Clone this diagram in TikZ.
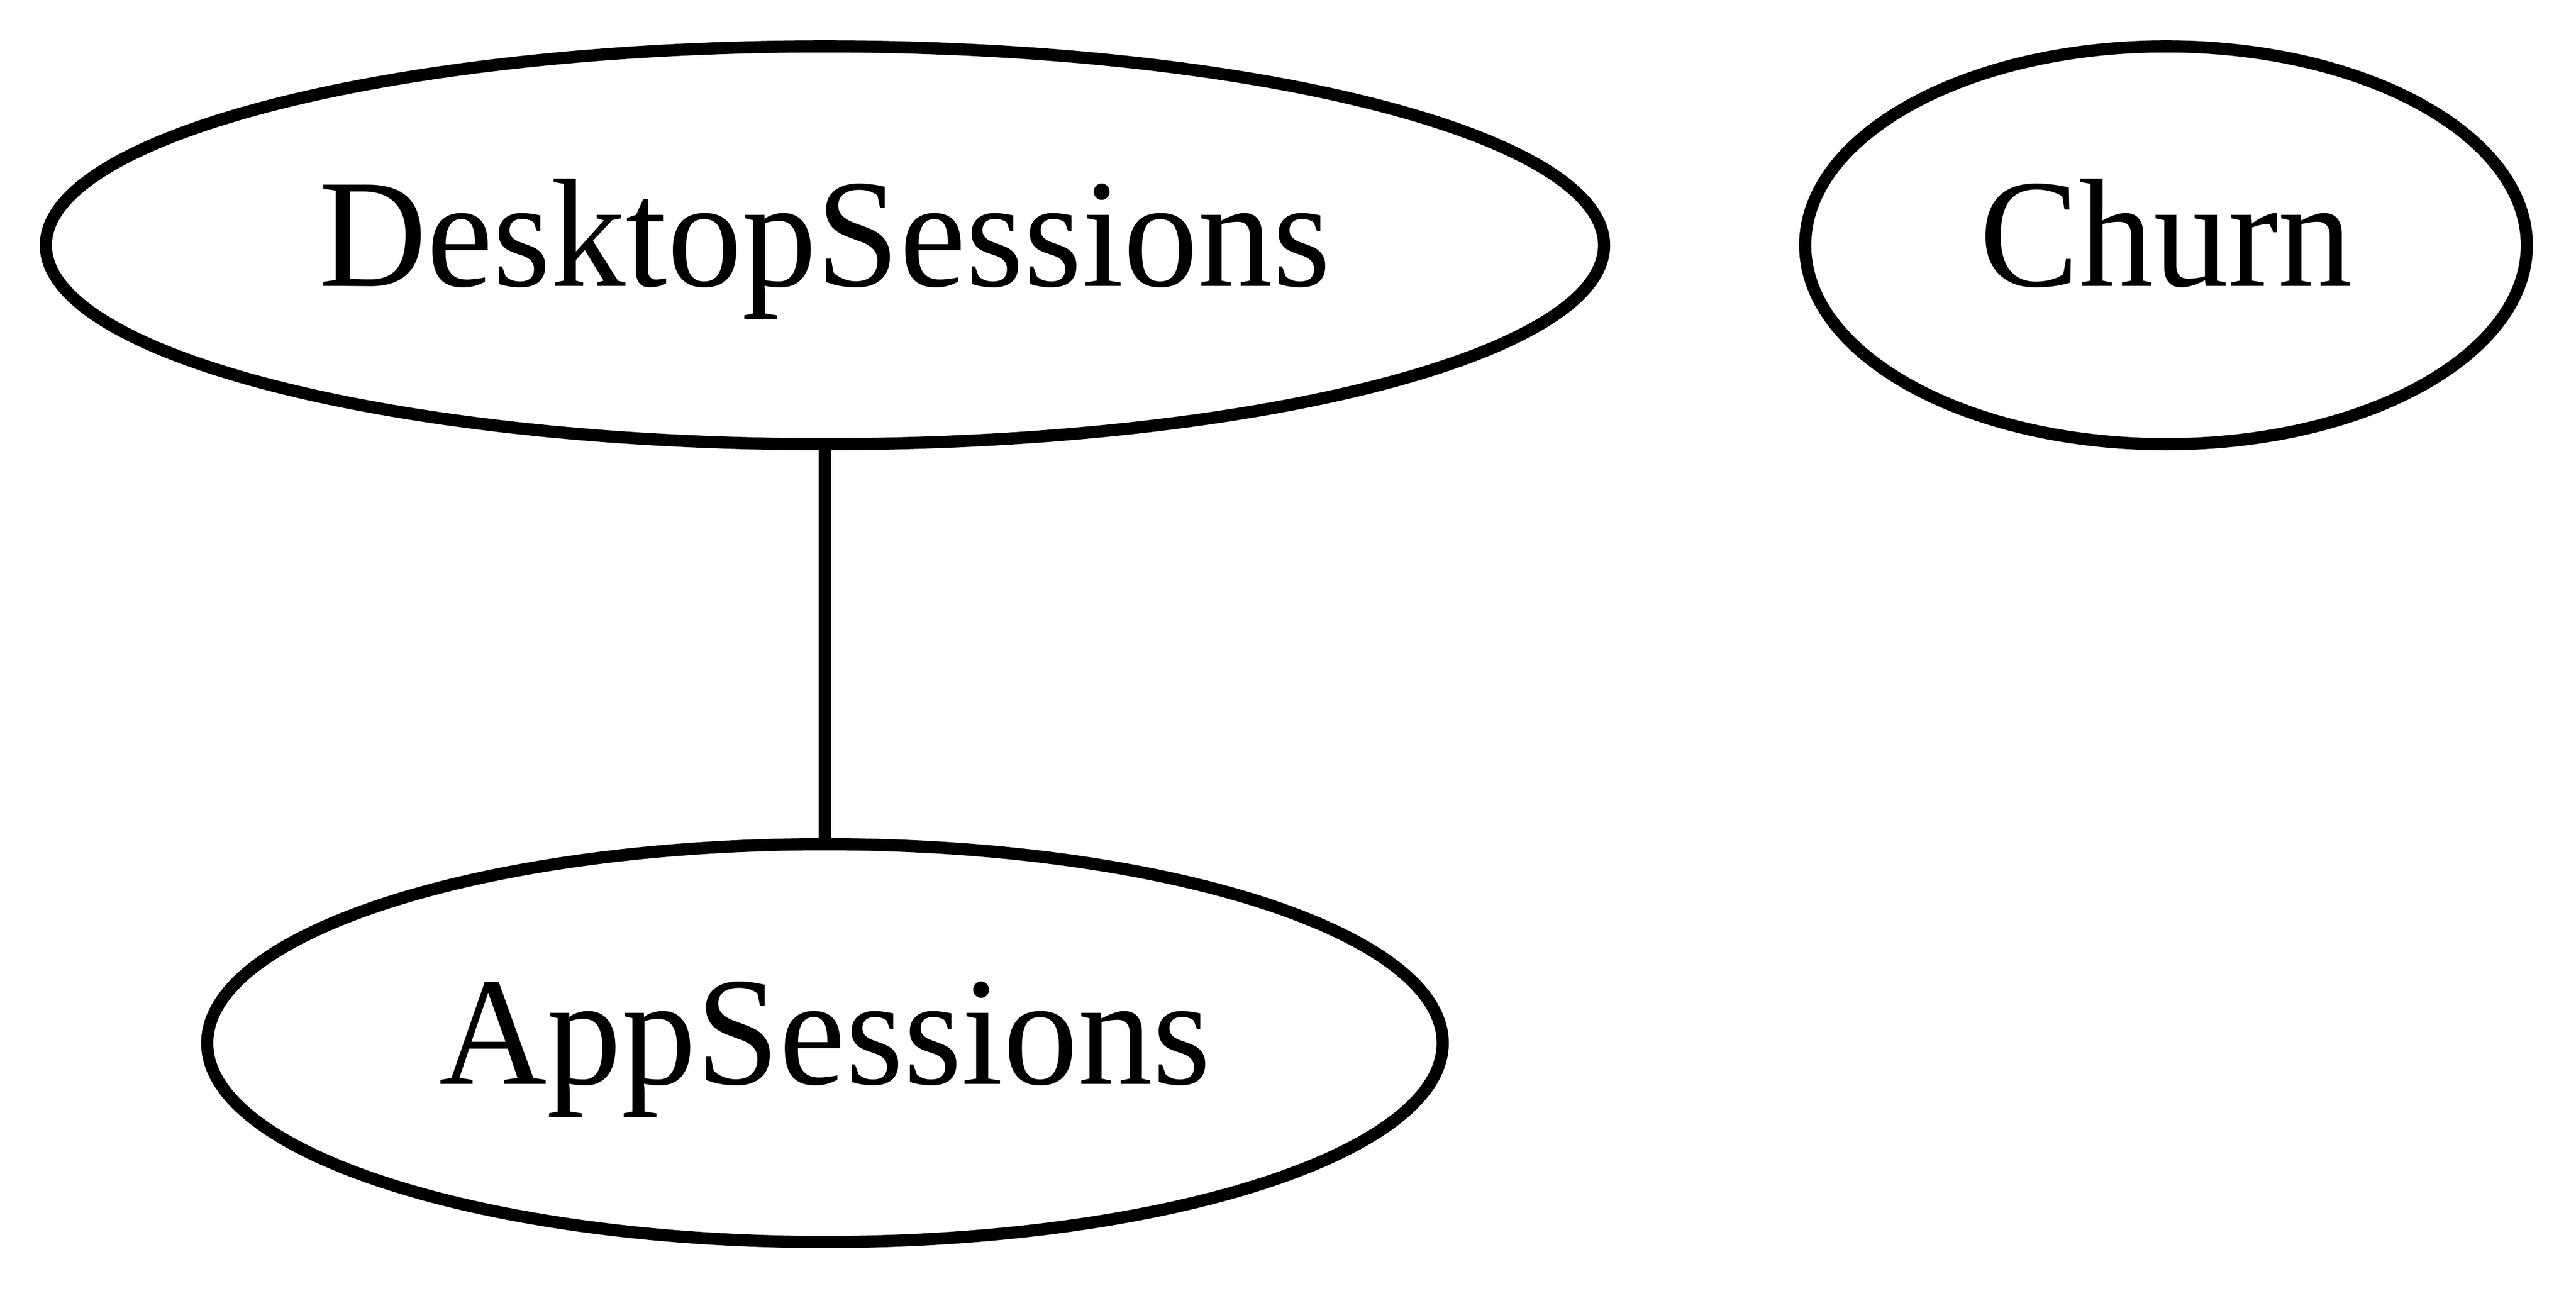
\documentclass[tikz,border=0pt]{standalone}
\usepackage{fontspec}
\setmainfont{Liberation Serif}[FakeStretch=0.965]
\usetikzlibrary{shapes.geometric}

\begin{document}
\begin{tikzpicture}[x=1pt,y=-1pt,
    var/.style={draw, ellipse, line width=1.1pt, inner sep=0pt, minimum height=36pt,
      text height=10.4pt, text depth=3pt, font=\fontsize{14pt}{16pt}\selectfont}]
    \useasboundingbox (0,0) rectangle (233.1,116.8);
    \node[var, minimum width=141pt]  (desktop) at (74.65,22.2) {DesktopSessions};
    \node[var, minimum width=65.3pt] (churn)   at (196,22.2)   {Churn};
    \node[var, minimum width=111.8pt] (app)    at (74.65,94.4) {AppSessions};
    \draw[line width=1.1pt] (desktop) -- (app);
\end{tikzpicture}
\end{document}
